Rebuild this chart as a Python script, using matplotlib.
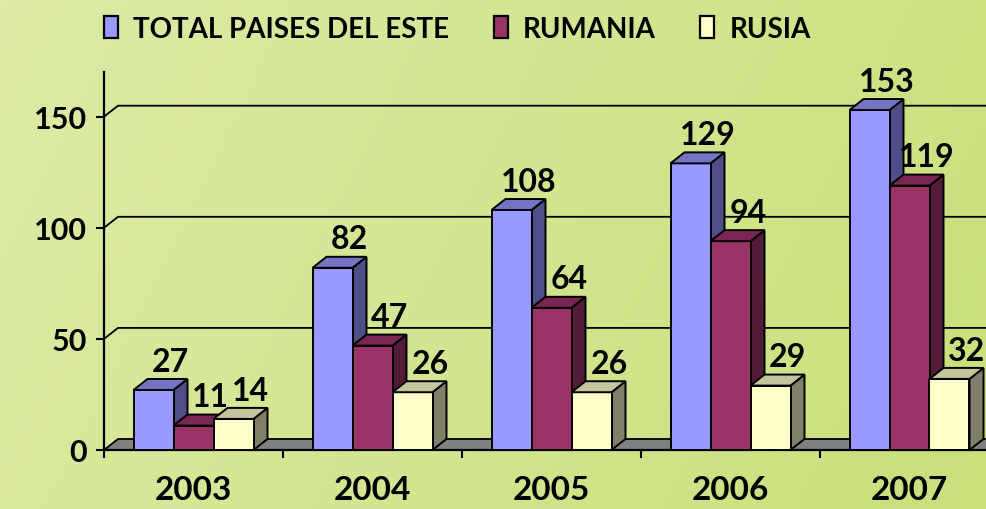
import numpy as np
import matplotlib
matplotlib.use("Agg")
import matplotlib.pyplot as plt
from matplotlib.patches import Polygon, Patch
from matplotlib.colors import LinearSegmentedColormap

# ---- data ----
years = ["2003", "2004", "2005", "2006", "2007"]
series_names = ["TOTAL PAISES DEL ESTE", "RUMANIA", "RUSIA"]
total_este = [27, 82, 108, 129, 153]
rumania = [11, 47, 64, 94, 119]
rusia = [14, 26, 26, 29, 32]
y_ticks = [0, 50, 100, 150]

series = [total_este, rumania, rusia]
front_cols = ["#9999FF", "#993366", "#FFFFCC"]
side_cols = ["#4E4E8A", "#521B38", "#80806A"]
top_cols = ["#7474C4", "#7A2652", "#C4C49E"]

plt.rcParams['font.family'] = ['Lato', 'DejaVu Sans']
plt.rcParams['font.weight'] = 'bold'

W, H = 987, 510
fig = plt.figure(figsize=(W / 100, H / 100), dpi=100)

# background gradient
bg = fig.add_axes([0, 0, 1, 1])
bg.set_axis_off()
gx = np.linspace(0, 1, 256)
gy = np.linspace(0, 1, 64)
GX, GY = np.meshgrid(gx, gy)
grad = 0.8 * GX + 0.2 * GY
cmap = LinearSegmentedColormap.from_list("bg", ["#DDEBA6", "#C9E07B"])
bg.imshow(grad, cmap=cmap, aspect="auto", extent=[0, 1, 0, 1], origin="upper")
bg.set_xlim(0, 1)
bg.set_ylim(0, 1)

# main axes (pixel-based placement)
x0_px, y0_px = 104, 451
cat_px = 179
ymax = 170
px_per_unit = 2.222
ax = fig.add_axes([x0_px / W, (H - y0_px) / H, 5 * cat_px / W, ymax * px_per_unit / H])
ax.patch.set_alpha(0)
n = len(years)
ax.set_xlim(0, n)
ax.set_ylim(0, ymax)

for s in ["top", "right", "bottom"]:
    ax.spines[s].set_visible(False)
ax.spines["left"].set_linewidth(1.6)
ax.spines["left"].set_bounds(0, ymax)

# depth offset in data units (14 px right, 11 px up)
DXp, DYp = 14, 11
inv = ax.transData.inverted()
o = ax.transData.transform((0, 0))
d = inv.transform((o[0] + DXp, o[1] + DYp))
ddx, ddy = d[0], d[1]

# floor
floor = Polygon([(0, 0), (n, 0), (n + ddx, ddy), (ddx, ddy)], closed=True,
                facecolor="#808080", edgecolor="black", lw=1.3, zorder=1, clip_on=False)
ax.add_patch(floor)

# gridlines on back wall
for t in y_ticks[1:]:
    ax.plot([0, ddx, n + 1], [t, t + ddy, t + ddy], color="black", lw=1.3, zorder=0.5,
            clip_on=False)

# bars
bw = 40 / cat_px
lw = 1.4
for i in range(n):
    c = i + 0.5
    for k, vals in enumerate(series):
        v = vals[i]
        x1 = c - 1.5 * bw + k * bw
        x2 = x1 + bw
        z = 2 + i * 0.1 + k * 0.02
        front = Polygon([(x1, 0), (x2, 0), (x2, v), (x1, v)], closed=True,
                        facecolor=front_cols[k], edgecolor="black", lw=lw, zorder=z)
        side = Polygon([(x2, 0), (x2 + ddx, ddy), (x2 + ddx, v + ddy), (x2, v)], closed=True,
                       facecolor=side_cols[k], edgecolor="black", lw=lw, zorder=z)
        top = Polygon([(x1, v), (x2, v), (x2 + ddx, v + ddy), (x1 + ddx, v + ddy)], closed=True,
                      facecolor=top_cols[k], edgecolor="black", lw=lw, zorder=z)
        for p in (side, front, top):
            ax.add_patch(p)
        ax.annotate(str(v), xy=((x1 + x2) / 2, v + ddy), xytext=(12.5, 6),
                    textcoords="offset points", ha="center", va="baseline",
                    fontsize=23, fontweight="bold", color="black", zorder=5,
                    annotation_clip=False)

# floor front edge line (x axis)
ax.plot([0, n], [0, 0], color="black", lw=1.6, zorder=1.5, clip_on=False)

# ticks
ax.set_yticks(y_ticks)
ax.set_yticklabels([str(t) for t in y_ticks])
ax.tick_params(axis="y", direction="out", length=6, width=1.5, pad=6, labelsize=22)
ax.set_xticks(np.arange(n + 1))
ax.set_xticklabels([""] * (n + 1))
ax.set_xticks(np.arange(n) + 0.5, minor=True)
ax.set_xticklabels(years, minor=True)
ax.tick_params(axis="x", which="major", direction="out", length=6, width=1.5)
ax.tick_params(axis="x", which="minor", length=0, pad=18, labelsize=24)
for lab in ax.get_yticklabels() + ax.get_xticklabels(minor=True):
    lab.set_fontweight("bold")

# legend
handles = [Patch(facecolor=front_cols[k], edgecolor="black", lw=1.6, label=series_names[k])
           for k in range(3)]
leg = fig.legend(handles=handles, loc="upper left", bbox_to_anchor=(104 / W, 1 - 17 / H),
                 ncol=3, frameon=False, handlelength=0.5, handleheight=0.85,
                 handletextpad=0.55, columnspacing=1.6, borderpad=0, borderaxespad=0,
                 prop={"weight": "bold", "size": 20})

fig.savefig("out.png", dpi=100)
